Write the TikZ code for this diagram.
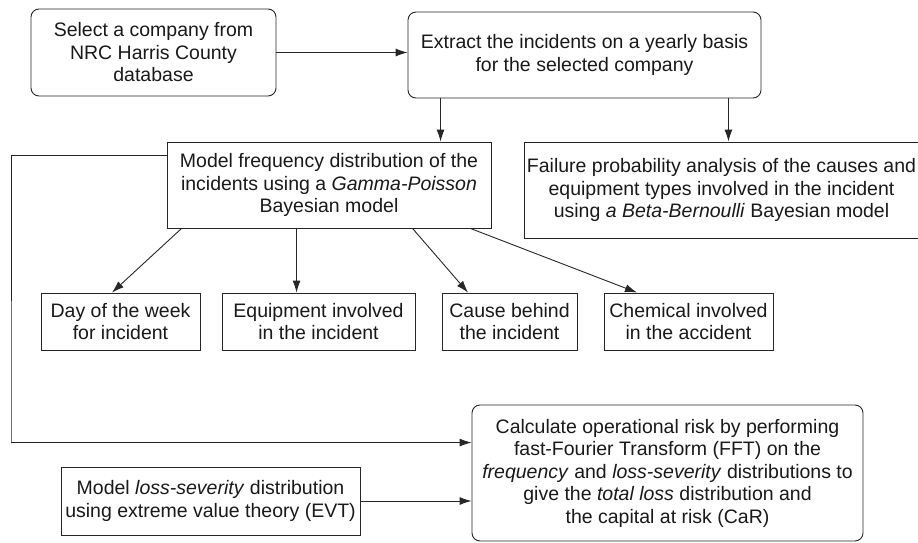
\documentclass[tikz,border=0pt]{standalone}
\usepackage{fontspec}
\setmainfont{Liberation Sans}
\usepackage{xcolor}
\usetikzlibrary{arrows.meta}

\begin{document}
\begin{tikzpicture}[x=1pt, y=-1pt,
        box/.style={draw=black!85, line width=0.9pt, rectangle, align=center, inner sep=2pt,
            text=black!90, font=\fontsize{19.5}{22.5}\selectfont},
        rbox/.style={box, rounded corners=8pt},
        arr/.style={-{Latex[length=12pt, width=8pt]}, draw=black!85, line width=0.9pt}]
        \useasboundingbox (0,0) rectangle (918,543);

        % Top row
        \node[rbox, minimum width=245pt, minimum height=87pt] (select) at (153.5, 52.5) {Select a company from\\NRC Harris County\\database};
        \node[rbox, minimum width=353pt, minimum height=86pt] (extract) at (584.5, 55) {Extract the incidents on a yearly basis\\for the selected company};

        % Bayesian models
        \node[box, minimum width=324pt, minimum height=86pt] (freq) at (329, 185) {Model frequency distribution of the\\incidents using a \textit{Gamma-Poisson}\\Bayesian model};
        \node[box, minimum width=387pt, minimum height=96pt] (fail) at (721.5, 190) {Failure probability analysis of the causes and\\equipment types involved in the incident\\using \textit{a Beta-Bernoulli} Bayesian model};

        % Factors
        \node[box, minimum width=159pt, minimum height=57pt] (day) at (120.5, 321.5) {Day of the week\\for incident};
        \node[box, minimum width=193pt, minimum height=57pt] (equip) at (318.5, 321.5) {Equipment involved\\in the incident};
        \node[box, minimum width=135pt, minimum height=57pt] (cause) at (509.5, 321.5) {Cause behind\\the incident};
        \node[box, minimum width=169pt, minimum height=57pt] (chem) at (688.5, 321.5) {Chemical involved\\in the accident};

        % Loss severity and risk
        \node[box, minimum width=299pt, minimum height=68pt] (evt) at (210.5, 501) {Model \textit{loss-severity} distribution\\using extreme value theory (EVT)};
        \node[rbox, minimum width=391pt, minimum height=136pt] (calc) at (667.5, 473) {Calculate operational risk by performing\\fast-Fourier Transform (FFT) on the\\\textit{frequency} and \textit{loss-severity} distributions to\\give the \textit{total loss} distribution and\\the capital at risk (CaR)};

        \coordinate (loop) at (11, 443);

        % Connections
        \draw[arr] (select.east) -- (select.east -| extract.west);
        \draw[arr] ([xshift=33pt]extract.south west) -- ([xshift=33pt]extract.south west |- freq.north);
        \draw[arr] ([xshift=-33pt]extract.south east) -- ([xshift=-33pt]extract.south east |- fail.north);

        \draw[arr] ([xshift=15pt]freq.south west) -- ([xshift=-8.5pt]day.north);
        \draw[arr] ([xshift=130pt]freq.south west) -- ([xshift=130pt]freq.south west |- equip.north);
        \draw[arr] ([xshift=246pt]freq.south west) -- ([xshift=-41.5pt]cause.north);
        \draw[arr] ([xshift=-21pt]freq.south east) -- ([xshift=-51.5pt]chem.north);

        \draw[arr] ([yshift=-14pt]freq.north west) -| (loop) |- ([yshift=-38pt]calc.north west);
        \draw[arr] (evt.east) -- (evt.east -| calc.west);
    \end{tikzpicture}
\end{document}
